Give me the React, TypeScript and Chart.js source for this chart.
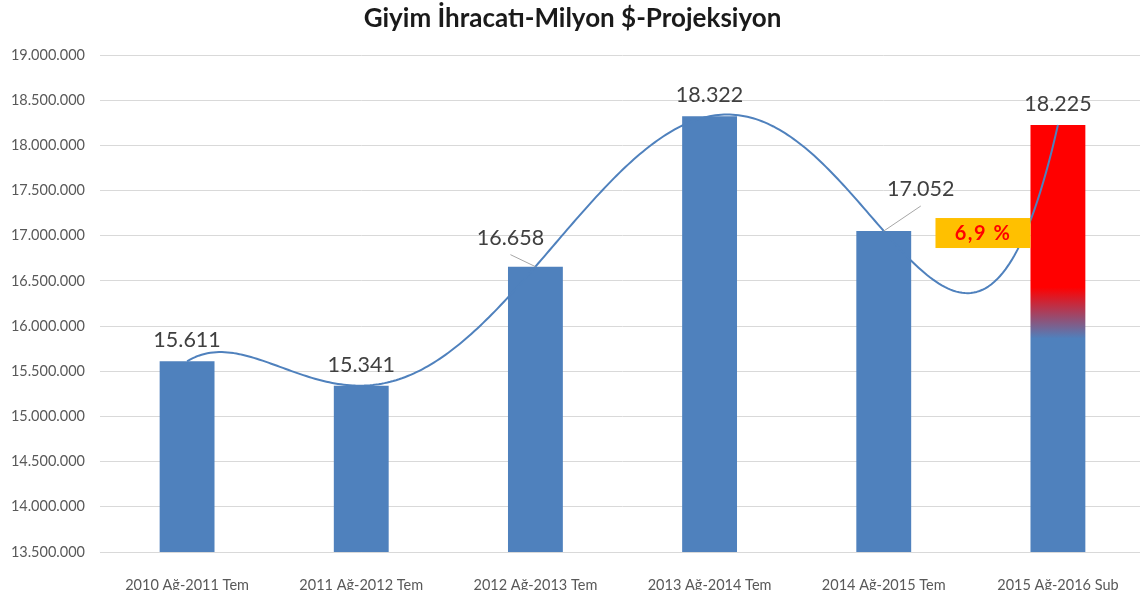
import React, { useEffect, useRef } from 'react';
import { Chart, registerables } from 'chart.js';

Chart.register(...registerables);

// ---- data ----
const TITLE = 'Giyim İhracatı-Milyon $-Projeksiyon';
const CATEGORIES = [
  '2010 Ağ-2011 Tem',
  '2011 Ağ-2012 Tem',
  '2012 Ağ-2013 Tem',
  '2013 Ağ-2014 Tem',
  '2014 Ağ-2015 Tem',
  '2015 Ağ-2016 Şub',
];
const EXPORTS = [15611000, 15341000, 16658000, 18322000, 17052000, 18225000];
const Y_MIN = 13500000;
const Y_MAX = 19000000;
const Y_STEP = 500000;
const TREND_ORDER = 5; // polynomial trendline order (as in the Excel source)

// ---- styles ----
const FONT = 'Lato, "Open Sans", "DejaVu Sans", sans-serif';
const BAR_BLUE = '#4F81BD';
const TREND_COLOR = '#4F81BD';
const PROJ_RED = '#FF0000';
const GRID = '#D9D9D9';
const TICK_COLOR = '#595959';
const LABEL_COLOR = '#404040';
const LEADER_COLOR = '#A6A6A6';
const BOX_FILL = '#FFC000';
const BOX_W = 95;
const BOX_H = 30;
// label displacement [dx, dy] in px for each bar's value label (leader line drawn when moved)
const LABEL_SHIFT: [number, number][] = [[0, 0], [0, 0], [-25, -8], [0, 0], [37, -21], [0, 0]];

const fmtThousands = (n: number) => String(Math.round(n)).replace(/\B(?=(\d{3})+(?!\d))/g, '.');
const fmtValue = (v: number) => fmtThousands(v / 1000);

// least-squares polynomial fit (Excel-style trendline)
function fitPoly(xs: number[], ys: number[], order: number): number[] {
  const m = order + 1;
  const A: number[][] = [];
  for (let r = 0; r < m; r++) {
    const row: number[] = [];
    for (let c = 0; c < m; c++) {
      let s = 0;
      for (let i = 0; i < xs.length; i++) s += Math.pow(xs[i], r + c);
      row.push(s);
    }
    let b = 0;
    for (let i = 0; i < xs.length; i++) b += ys[i] * Math.pow(xs[i], r);
    row.push(b);
    A.push(row);
  }
  for (let col = 0; col < m; col++) {
    let piv = col;
    for (let r = col + 1; r < m; r++) if (Math.abs(A[r][col]) > Math.abs(A[piv][col])) piv = r;
    [A[col], A[piv]] = [A[piv], A[col]];
    for (let r = 0; r < m; r++) {
      if (r === col) continue;
      const f = A[r][col] / A[col][col];
      for (let c = col; c <= m; c++) A[r][c] -= f * A[col][c];
    }
  }
  return A.map((row, i) => row[m] / row[i]);
}
const evalPoly = (c: number[], x: number) => c.reduce((s, a, i) => s + a * Math.pow(x, i), 0);

const overlayPlugin = {
  id: 'overlay',
  afterDatasetsDraw(chart: any) {
    const { ctx, chartArea, scales } = chart;
    const xs = scales.x;
    const ys = scales.y;
    const meta = chart.getDatasetMeta(0);
    const n = EXPORTS.length;

    // trendline
    const xPos = EXPORTS.map((_, i) => i + 1);
    const yM = EXPORTS.map((v) => v / 1e6);
    const coeffs = fitPoly(xPos, yM, TREND_ORDER);
    ctx.save();
    ctx.beginPath();
    ctx.rect(chartArea.left, chartArea.top, chartArea.right - chartArea.left, chartArea.bottom - chartArea.top);
    ctx.clip();
    ctx.beginPath();
    const steps = 300;
    for (let k = 0; k <= steps; k++) {
      const t = ((n - 1) * k) / steps;
      const v = evalPoly(coeffs, t + 1) * 1e6;
      const px = xs.getPixelForValue(t);
      const py = ys.getPixelForValue(v);
      if (k === 0) ctx.moveTo(px, py);
      else ctx.lineTo(px, py);
    }
    ctx.strokeStyle = TREND_COLOR;
    ctx.lineWidth = 2;
    ctx.lineJoin = 'round';
    ctx.stroke();
    ctx.restore();

    // growth box
    const last = meta.data[n - 1];
    const lastLeft = last.x - last.width / 2;
    const cy = ys.getPixelForValue(EXPORTS[n - 2]) + 2;
    const bx = lastLeft - BOX_W;
    const by = cy - BOX_H / 2;
    ctx.save();
    ctx.fillStyle = BOX_FILL;
    ctx.fillRect(bx, by, BOX_W, BOX_H);
    const growth = ((EXPORTS[n - 1] / EXPORTS[n - 2] - 1) * 100).toFixed(1).replace('.', ',') + ' %';
    ctx.fillStyle = '#FF0000';
    ctx.font = `bold 20px ${FONT}`;
    (ctx as any).letterSpacing = '1.5px';
    ctx.textAlign = 'center';
    ctx.textBaseline = 'middle';
    ctx.fillText(growth, bx + BOX_W / 2, cy + 1);
    ctx.restore();

    // value labels
    ctx.save();
    ctx.font = `21.5px ${FONT}`;
    ctx.fillStyle = LABEL_COLOR;
    ctx.textAlign = 'center';
    ctx.textBaseline = 'alphabetic';
    meta.data.forEach((bar: any, i: number) => {
      const [dx, dy] = LABEL_SHIFT[i];
      const lx = bar.x + dx;
      const base = bar.y - 14 + dy;
      if (dx !== 0 || dy !== 0) {
        ctx.beginPath();
        ctx.moveTo(lx, base + 10);
        ctx.lineTo(bar.x, bar.y);
        ctx.strokeStyle = LEADER_COLOR;
        ctx.lineWidth = 1;
        ctx.stroke();
      }
      ctx.fillText(fmtValue(EXPORTS[i]), lx, base);
    });
    ctx.restore();
  },
};

export default function App() {
  const ref = useRef<HTMLCanvasElement | null>(null);
  useEffect(() => {
    if (!ref.current) return;
    const chart = new Chart(ref.current, {
      type: 'bar',
      data: {
        labels: CATEGORIES,
        datasets: [
          {
            data: EXPORTS,
            backgroundColor: (c: any) => {
              const ch = c.chart;
              if (c.dataIndex !== EXPORTS.length - 1 || !ch.chartArea) return BAR_BLUE;
              const top = ch.scales.y.getPixelForValue(EXPORTS[c.dataIndex]);
              const g = ch.ctx.createLinearGradient(0, top, 0, ch.chartArea.bottom);
              g.addColorStop(0, PROJ_RED);
              g.addColorStop(0.38, PROJ_RED);
              g.addColorStop(0.5, BAR_BLUE);
              g.addColorStop(1, BAR_BLUE);
              return g;
            },
            borderWidth: 0,
            categoryPercentage: 1,
            barPercentage: 0.315,
          },
        ],
      },
      options: {
        responsive: false,
        animation: false,
        layout: { padding: { left: 0, right: 1, top: 0, bottom: 0 } },
        plugins: {
          legend: { display: false },
          tooltip: { enabled: false },
          title: {
            display: true,
            text: TITLE,
            color: '#1a1a1a',
            font: { family: FONT, size: 26, weight: 'bold', lineHeight: 1.2 },
            padding: { top: 3, bottom: 20.8 },
          },
        },
        scales: {
          x: {
            grid: { display: false },
            border: { display: true, color: GRID, width: 1 },
            ticks: {
              color: TICK_COLOR,
              font: { family: FONT, size: 14.5 },
              padding: 17,
              maxRotation: 0,
              autoSkip: false,
            },
            afterFit: (a: any) => {
              a.height = 38;
            },
          },
          y: {
            min: Y_MIN,
            max: Y_MAX,
            grid: { color: GRID, lineWidth: 1, drawTicks: false },
            border: { display: false },
            ticks: {
              stepSize: Y_STEP,
              color: TICK_COLOR,
              font: { family: FONT, size: 14.5 },
              padding: 15,
              callback: (v: any) => fmtThousands(Number(v)),
            },
            afterFit: (a: any) => {
              a.width = 100;
            },
          },
        },
      },
      plugins: [overlayPlugin],
    } as any);
    return () => chart.destroy();
  }, []);
  return (
    <div style={{ position: 'fixed', left: 0, top: 0, width: 1140, height: 590, overflow: 'hidden', background: '#fff' }}>
      <canvas ref={ref} width={1146} height={590} style={{ display: 'block' }} />
    </div>
  );
}
